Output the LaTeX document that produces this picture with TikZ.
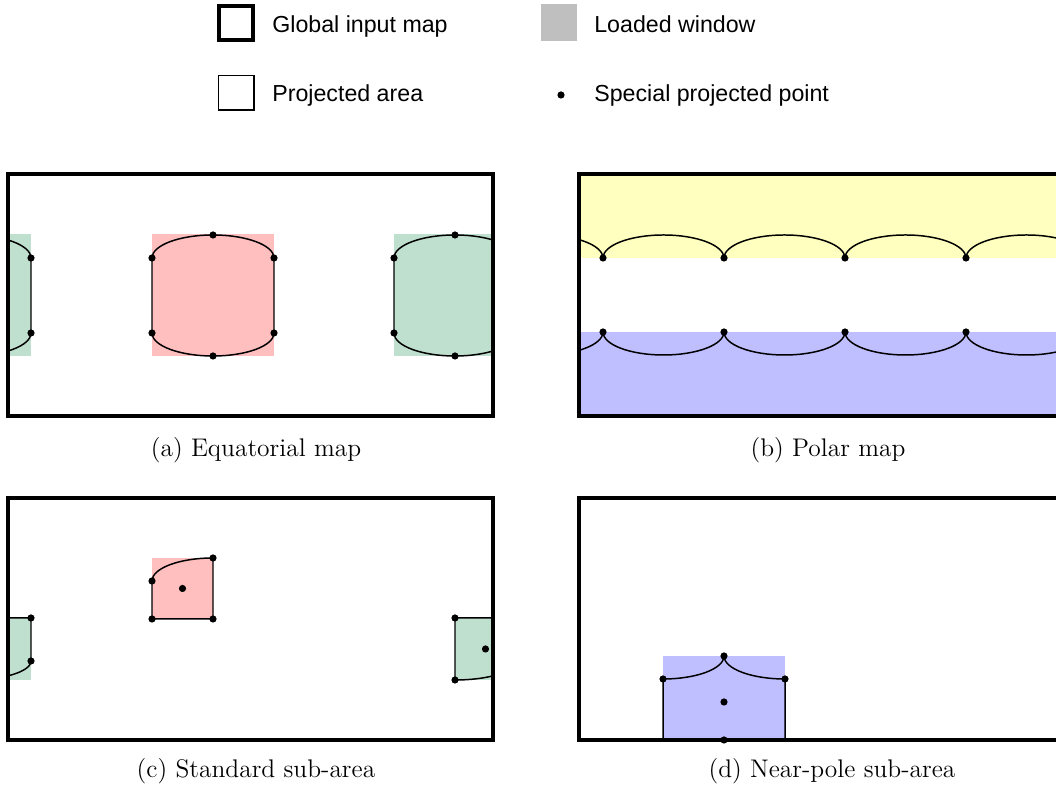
\documentclass[tikz,border=0pt]{standalone}
\usepackage{fontspec}
\setsansfont{Liberation Sans}
\usepackage{tikz}
\definecolor{loadred}{RGB}{255,191,191}
\definecolor{loadgreen}{RGB}{192,224,207}
\definecolor{loadyellow}{RGB}{255,255,191}
\definecolor{loadblue}{RGB}{191,191,255}
\definecolor{loadgray}{RGB}{191,191,191}

\begin{document}
\begin{tikzpicture}[
  x=0.02cm, y=0.02cm,
  globalmap/.style={draw, line width=1.8pt},
  projarea/.style={draw, line width=0.85pt},
  spoint/.style={fill=black},
  legtxt/.style={anchor=base west, inner sep=0pt, font=\sffamily\fontsize{13.2}{15}\selectfont},
  captxt/.style={anchor=base, inner sep=0pt, font=\fontsize{14.5}{16}\selectfont}
]
\useasboundingbox (0,0) rectangle (1056,787);

% Legend
\draw[globalmap] (219,747) rectangle (253,781);
\node[legtxt] (lglobal) at (272,754) {Global input map};
\fill[loadgray] (541,746) rectangle (577,783);
\node[legtxt] (lloaded) at (594,754) {Loaded window};
\draw[projarea] (218.5,677) rectangle (254,711.5);
\node[legtxt] (lproj) at (272,685) {Projected area};
\fill[spoint] (561,692) circle[radius=3.6];
\node[legtxt] (lspecial) at (594,685) {Special projected point};

% (a) Equatorial map
\begin{scope}[shift={(8,371)}]
  \begin{scope}
    \clip (0,0) rectangle (485,242);
    \fill[loadred] (144,60) rectangle (266,182);
    \draw[projarea] (144,158) arc[start angle=180, end angle=0, x radius=61, y radius=23]
      -- (266,83) arc[start angle=0, end angle=-180, x radius=61, y radius=23] -- cycle;
    \foreach \dx in {0,-485} {
      \fill[loadgreen] (386+\dx,60) rectangle (508+\dx,182);
      \draw[projarea] (386+\dx,158) arc[start angle=180, end angle=0, x radius=61, y radius=23]
        -- (508+\dx,83) arc[start angle=0, end angle=-180, x radius=61, y radius=23] -- cycle;
    }
  \end{scope}
  \draw[globalmap] (0,0) rectangle (485,242);
  \foreach \x/\y in {144/158,144/83,266/158,266/83,205/181,205/60,
                     386/158,386/83,447/181,447/60,23/158,23/83}
    \fill[spoint] (\x,\y) circle[radius=3.6];
\end{scope}
\node[captxt] (capa) at (256,330) {(a) Equatorial map};

% (b) Polar map
\begin{scope}[shift={(579,371)}]
  \begin{scope}
    \clip (0,0) rectangle (485,242);
    \fill[loadyellow] (0,158) rectangle (485,242);
    \fill[loadblue] (0,0) rectangle (485,84);
    \foreach \x in {-97,24,145,266,387} {
      \draw[projarea] (\x,158) arc[start angle=180, end angle=0, x radius=60.5, y radius=23];
      \draw[projarea] (\x,84) arc[start angle=180, end angle=360, x radius=60.5, y radius=23];
    }
  \end{scope}
  \draw[globalmap] (0,0) rectangle (485,242);
  \foreach \x in {24,145,266,387} {
    \fill[spoint] (\x,158) circle[radius=3.6];
    \fill[spoint] (\x,84) circle[radius=3.6];
  }
\end{scope}
\node[captxt] (capb) at (828,330) {(b) Polar map};

% (c) Standard sub-area
\begin{scope}[shift={(8,47)}]
  \begin{scope}
    \clip (0,0) rectangle (485,242);
    \fill[loadred] (144,121) rectangle (205,182);
    \draw[projarea] (144,159) arc[start angle=180, end angle=90, x radius=61, y radius=23]
      -- (205,121) -- (144,121) -- cycle;
    \foreach \dx in {0,-485} {
      \fill[loadgreen] (447+\dx,60) rectangle (508+\dx,122);
      \draw[projarea] (508+\dx,122) -- (447+\dx,122) -- (447+\dx,60)
        arc[start angle=270, end angle=360, x radius=61, y radius=19] -- cycle;
    }
  \end{scope}
  \draw[globalmap] (0,0) rectangle (485,242);
  \foreach \x/\y in {205/182,144/159,144/121,205/121,174.5/151.5,
                     447/122,447/60,477.5/91,23/122,23/79}
    \fill[spoint] (\x,\y) circle[radius=3.6];
\end{scope}
\node[captxt] (capc) at (256,9) {(c) Standard sub-area};

% (d) Near-pole sub-area
\begin{scope}[shift={(579,47)}]
  \fill[loadblue] (84,0) rectangle (206,84);
  \draw[projarea] (84,0) -- (84,61)
    arc[start angle=270, end angle=360, x radius=61, y radius=23]
    arc[start angle=180, end angle=270, x radius=61, y radius=23] -- (206,0);
  \draw[globalmap] (0,0) rectangle (485,242);
  \foreach \x/\y in {145/84,84/61,206/61,145/38,145/0}
    \fill[spoint] (\x,\y) circle[radius=3.6];
\end{scope}
\node[captxt] (capd) at (832,9) {(d) Near-pole sub-area};
\end{tikzpicture}
\end{document}
